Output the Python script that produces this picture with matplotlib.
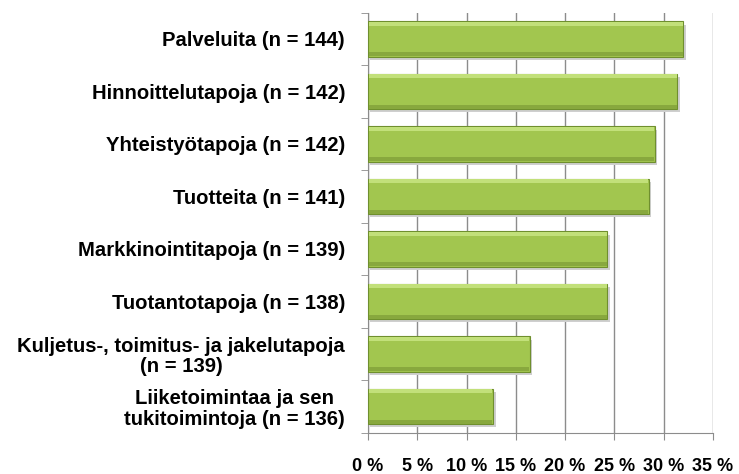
import numpy as np
import matplotlib
matplotlib.use('Agg')
import matplotlib.pyplot as plt
from matplotlib.ticker import FixedLocator, FuncFormatter

plt.rcParams['font.family'] = ['Liberation Sans', 'DejaVu Sans']

# data, top to bottom
labels = ['Palveluita (n = 144)',
          'Hinnoittelutapoja (n = 142)',
          'Yhteistyötapoja (n = 142)',
          'Tuotteita (n = 141)',
          'Markkinointitapoja (n = 139)',
          'Tuotantotapoja (n = 138)',
          'Kuljetus-, toimitus- ja jakelutapoja\n(n = 139)',
          'Liiketoimintaa ja sen\ntukitoimintoja (n = 136)']
values = [32.0, 31.4, 29.1, 28.5, 24.3, 24.3, 16.4, 12.7]
xticks = [0, 5, 10, 15, 20, 25, 30, 35]

fig = plt.figure(figsize=(7.39, 4.74), dpi=100)
ax = fig.add_axes([0.498, 0.0871, 0.4665, 0.886])

y = np.arange(len(values))
# shadow
ax.barh(y + 0.06, values, height=0.67, left=0.25, color='#cfcfcf', zorder=2)
ax.barh(y, values, height=0.67, color='#a2c64f', edgecolor='#6f8f2e', linewidth=0.8, zorder=3)
# light top strip for the gradient look
ax.barh(y - 0.29, np.array(values) - 0.15, height=0.07, left=0.08, color='#c2e07a', zorder=4)
# darker bottom strip
ax.barh(y + 0.29, np.array(values) - 0.15, height=0.07, left=0.08, color='#88a83e', zorder=4)

ax.set_xlim(0, 35)
ax.set_ylim(len(values) - 0.5, -0.5)

ax.set_xticks(xticks)
ax.xaxis.set_major_formatter(FuncFormatter(lambda v, p: '%d %%' % v))
ax.grid(axis='x', color='#8c8c8c', linewidth=1.0, zorder=1)
ax.set_axisbelow(True)

ax.set_yticks(y)
ax.set_yticklabels(labels, fontsize=14.6, fontweight='bold', multialignment='center',
                   linespacing=1.08)
ax.yaxis.set_minor_locator(FixedLocator(np.arange(len(values) + 1) - 0.5))
ax.tick_params(axis='y', which='major', length=0, pad=16.5)
ax.tick_params(axis='y', which='minor', length=5, color='#8c8c8c')
ax.tick_params(axis='x', length=5, color='#8c8c8c', labelsize=13, pad=13)
for t in ax.get_xticklabels():
    t.set_fontweight('bold')

for s in ['top', 'right']:
    ax.spines[s].set_visible(False)
ax.spines['left'].set_color('#8c8c8c')
ax.spines['bottom'].set_color('#8c8c8c')

plt.savefig('out.png', dpi=100)
